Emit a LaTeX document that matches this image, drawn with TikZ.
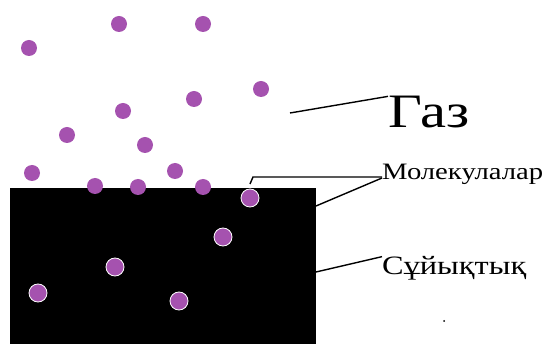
\documentclass[tikz,border=0pt]{standalone}
\usepackage{fontspec}
\setmainfont{Liberation Serif}
\newfontfamily\lblfont[FakeStretch=1.22]{Liberation Serif}
\begin{document}
\begin{tikzpicture}[x=1pt,y=-1pt,
  molecule/.style={circle,fill=mol,inner sep=0pt,minimum size=16pt},
  inmolecule/.style={molecule,minimum size=18pt,draw=white,line width=0.8pt},
  label/.style={anchor=base west,inner sep=0pt,text=black},
  leader/.style={draw=black,line width=1.4pt}]
\definecolor{mol}{RGB}{165,82,175}
\useasboundingbox (0,0) rectangle (551,344);

% the liquid body
\node[fill=black,inner sep=0pt,minimum width=306pt,minimum height=157pt,anchor=north west] (liquid) at (10,188) {};

% molecules escaping into the gas
\foreach \n/\px/\py in {g1/29/48, g2/119/24, g3/203/24, g4/261/89, g5/194/99,
  g6/123/111, g7/67/135, g8/145/145, g9/32/173, g10/175/171,
  g11/95/186, g12/138/187, g13/203/187}
  \node[molecule] (\n) at (\px,\py) {};

% molecules inside the liquid
\foreach \n/\px/\py in {l1/250/198, l2/223/237, l3/115/267, l4/38/293, l5/179/301}
  \node[inmolecule] (\n) at (\px,\py) {};

% labels
\node[label,font={\lblfont\fontsize{48}{48}\selectfont}] (gas) at (388,128) {Газ};
\node[label,font={\lblfont\fontsize{23.5}{23.5}\selectfont}] (mols) at (382,180) {Молекулалар};
\node[label,font={\lblfont\fontsize{26.5}{26.5}\selectfont}] (liq) at (382,275) {Сұйықтық};

% leader lines
\coordinate (gasend) at (290,113);
\coordinate (hook) at (250,184);
\coordinate (hooktop) at (253,177);
\coordinate (molend) at (316,206);
\coordinate (liqend) at (316,272);
\draw[leader] (gasend) -- (gas.north west);
\draw[leader] (hook) -- (hooktop) -- ([yshift=3pt]mols.base west);
\draw[leader] (molend) -- ([yshift=2pt]mols.base west);
\draw[leader] (liqend) -- (liq.north west);

% stray dot
\node[circle,fill=black,inner sep=0pt,minimum size=2pt] (dot) at (444,321) {};
\end{tikzpicture}
\end{document}
